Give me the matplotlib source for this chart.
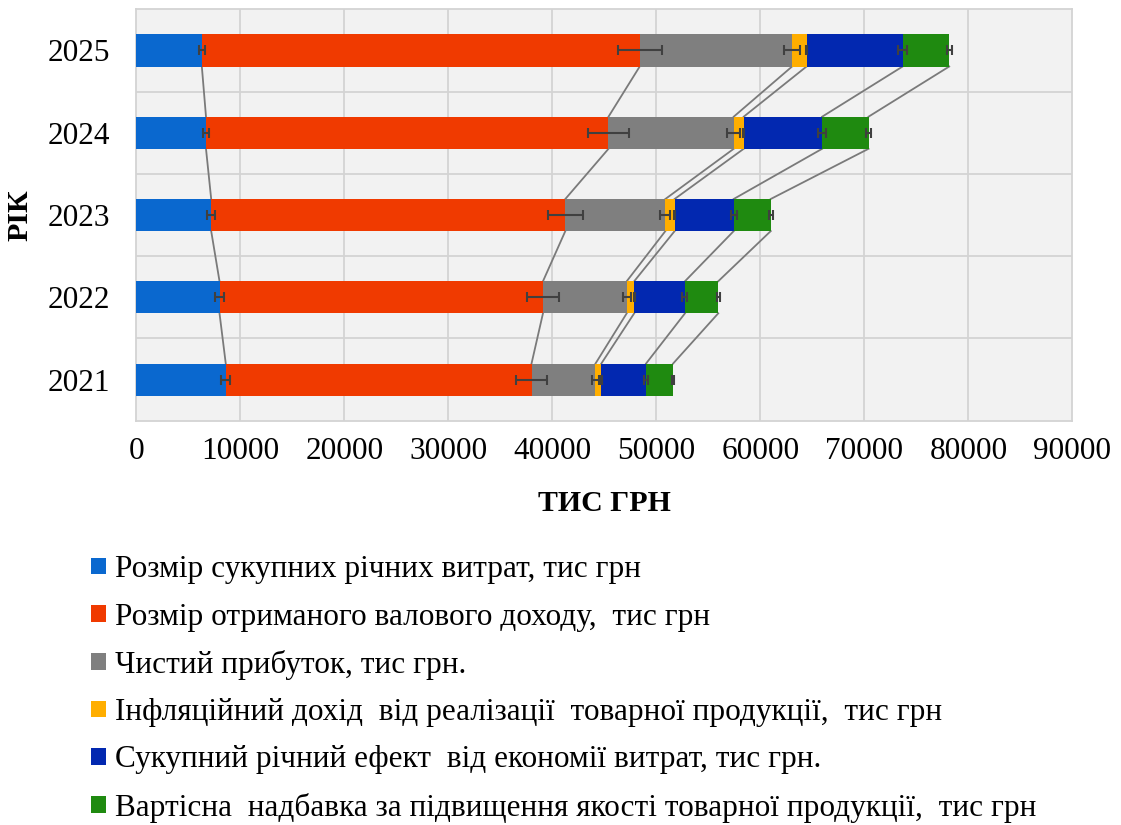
import matplotlib.pyplot as plt
from matplotlib.patches import Patch

plt.rcParams['font.family'] = ['Liberation Serif', 'DejaVu Serif']

# Data (tis. UAH), bottom-up order of years
years = ['2021', '2022', '2023', '2024', '2025']
costs = [8600, 8000, 7200, 6700, 6300]
gross_income = [29400, 31100, 34050, 38700, 42100]
net_profit = [6150, 8050, 9620, 12040, 14650]
inflation_income = [560, 720, 890, 960, 1390]
annual_effect = [4300, 4880, 5680, 7540, 9240]
quality_markup = [2600, 3200, 3560, 4460, 4480]

costs_err = [430, 400, 360, 335, 315]
gross_err = [1470, 1555, 1700, 1935, 2105]
profit_err = [310, 400, 480, 600, 730]
inflation_err = [28, 36, 45, 48, 70]
effect_err = [215, 245, 285, 375, 460]
markup_err = [130, 160, 180, 220, 225]

labels = [
    'Розмір сукупних річних витрат, тис грн',
    'Розмір отриманого валового доходу,  тис грн',
    'Чистий прибуток, тис грн.',
    'Інфляційний дохід  від реалізації  товарної продукції,  тис грн',
    'Сукупний річний ефект  від економії витрат, тис грн.',
    'Вартісна  надбавка за підвищення якості товарної продукції,  тис грн',
]
colors = ['#0a68cf', '#f03a00', '#7f7f7f', '#ffae00', '#0228b0', '#1f8a10']

series = [costs, gross_income, net_profit, inflation_income, annual_effect, quality_markup]
errors = [costs_err, gross_err, profit_err, inflation_err, effect_err, markup_err]

fig = plt.figure(figsize=(11.21, 8.25), dpi=100)
ax = fig.add_axes([0.1216, 0.49, 0.835, 0.4987])
ax.set_facecolor('#f2f2f2')

y = list(range(len(years)))
bar_h = 0.39
left = [0] * len(years)
ends = []
for vals, errs, col in zip(series, errors, colors):
    ax.barh(y, vals, height=bar_h, left=left, color=col, zorder=3)
    left = [a + b for a, b in zip(left, vals)]
    ends.append(left)
    ax.errorbar(left, y, xerr=errs, fmt='none', ecolor='#404040',
                elinewidth=1.5, capsize=3.5, capthick=1.5, zorder=5)

# series lines between neighbouring bars
for cum in ends:
    for i in range(len(years) - 1):
        ax.plot([cum[i], cum[i + 1]], [i + bar_h / 2, i + 1 - bar_h / 2],
                color='#7a7a7a', lw=1.3, zorder=2)

ax.set_xlim(0, 90000)
ax.set_ylim(-0.5, len(years) - 0.5)
ax.set_xticks(range(0, 90001, 10000))
ax.set_yticks(y)
ax.set_yticklabels(years)
ax.tick_params(axis='both', length=0, labelsize=22.5)
ax.tick_params(axis='x', pad=12)
ax.tick_params(axis='y', pad=19)

for xv in range(10000, 90000, 10000):
    ax.axvline(xv, color='#d3d3d3', lw=1.3, zorder=1)
for k in range(len(years) - 1):
    ax.axhline(k + 0.5, color='#d3d3d3', lw=1.3, zorder=1)
for sp in ax.spines.values():
    sp.set_color('#d3d3d3')
    sp.set_linewidth(1.3)

ax.set_xlabel('ТИС ГРН', fontsize=21.5, fontweight='bold', labelpad=17)
ax.set_ylabel('РІК', fontsize=21.5, fontweight='bold', labelpad=10)

handles = [Patch(facecolor=c) for c in colors]
fig.legend(handles, labels, loc='upper left', bbox_to_anchor=(0.081, 0.327),
           frameon=False, fontsize=22.5, handlelength=0.5, handleheight=0.45,
           handletextpad=0.28, labelspacing=0.585, borderaxespad=0, borderpad=0)

fig.savefig('out.png', dpi=100)
